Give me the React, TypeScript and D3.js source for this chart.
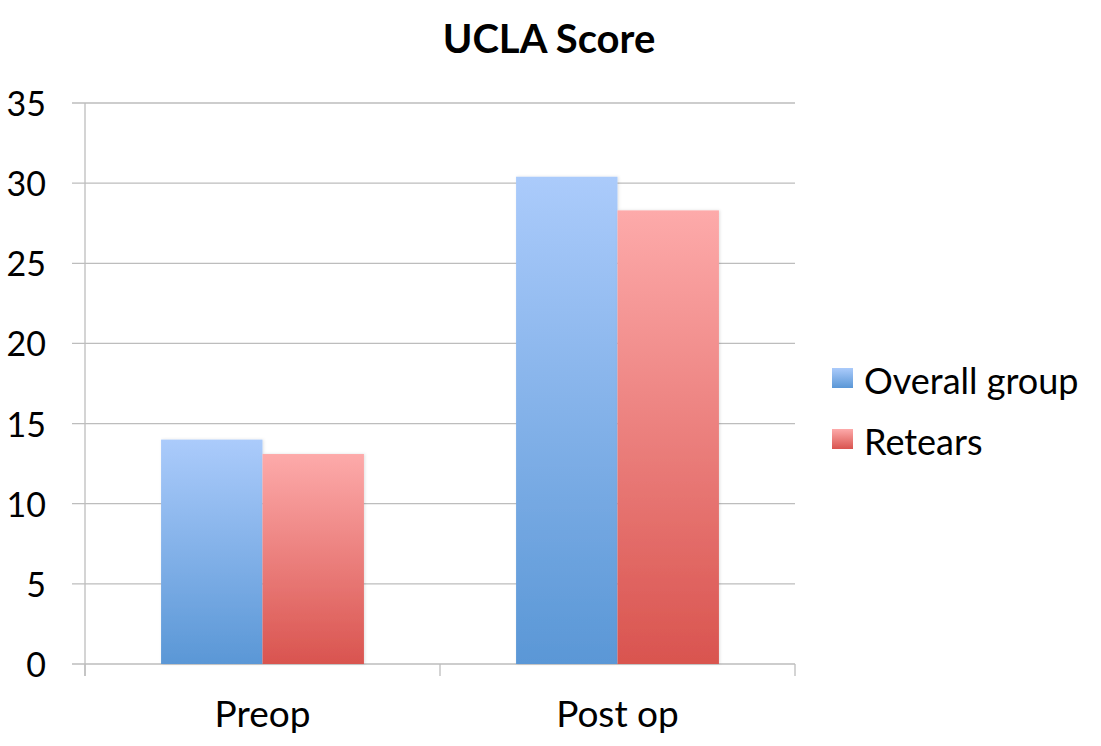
import React from "react";
import * as d3 from "d3";

const categories = ["Preop", "Post op"];
const seriesNames = ["Overall group", "Retears"];
const overallGroup = [14.0, 30.4];
const retears = [13.1, 28.3];
const yTicks = [0, 5, 10, 15, 20, 25, 30, 35];

const W = 1101;
const H = 746;
const M = { left: 85, right: 795, top: 103, bottom: 664 };
const FONT = "Lato, 'Open Sans', sans-serif";
const gridColor = "#bdbdbd";

const gradients = [
  { id: "gBlue", top: "#abcbfb", bottom: "#5a97d6" },
  { id: "gRed", top: "#fdaaaa", bottom: "#d9544f" },
];

export default function App() {
  const seriesValues = [overallGroup, retears];
  const x0 = d3.scaleBand<string>().domain(categories).range([M.left, M.right]).paddingInner(0).paddingOuter(0);
  const x1 = d3
    .scaleBand<string>()
    .domain(seriesNames)
    .range([0, x0.bandwidth()])
    .paddingInner(0)
    .paddingOuter(0.75);
  const y = d3.scaleLinear().domain([0, 35]).range([M.bottom, M.top]);

  const catTicks = [M.left, ...categories.map((c) => (x0(c) as number) + x0.bandwidth())];

  return (
    <svg width={W} height={H} style={{ position: "absolute", left: 0, top: 0 }} xmlns="http://www.w3.org/2000/svg">
      <defs>
        {gradients.map((g) => (
          <linearGradient key={g.id} id={g.id} x1="0" y1="0" x2="0" y2="1">
            <stop offset="0" stopColor={g.top} />
            <stop offset="1" stopColor={g.bottom} />
          </linearGradient>
        ))}
        <filter id="shadow" x="-10%" y="-10%" width="120%" height="120%">
          <feDropShadow dx="1" dy="0" stdDeviation="1.5" floodColor="#000" floodOpacity="0.12" />
        </filter>
      </defs>
      <rect width={W} height={H} fill="#fff" />
      <text x={549} y={53} textAnchor="middle" fontFamily={FONT} fontWeight="bold" fontSize={40} fill="#000">
        UCLA Score
      </text>
      {yTicks.map((t) => (
        <g key={t}>
          <line x1={72} x2={M.right} y1={y(t)} y2={y(t)} stroke={gridColor} strokeWidth={1.3} />
          <text x={46} y={y(t) + 13} textAnchor="end" fontFamily={FONT} fontSize={34} fill="#000">
            {t}
          </text>
        </g>
      ))}
      <line x1={M.left} x2={M.left} y1={M.top} y2={676} stroke={gridColor} strokeWidth={1.3} />
      {catTicks.map((cx, i) => (
        <line key={i} x1={cx} x2={cx} y1={M.bottom} y2={676} stroke={gridColor} strokeWidth={1.3} />
      ))}
      {categories.map((c, ci) => (
        <g key={c}>
          {seriesNames.map((s, si) => {
            const v = seriesValues[si][ci];
            const bx = (x0(c) as number) + (x1(s) as number);
            return (
              <rect
                key={s}
                x={bx}
                y={y(v)}
                width={x1.bandwidth()}
                height={y(0) - y(v)}
                fill={`url(#${gradients[si].id})`}
                filter="url(#shadow)"
              />
            );
          })}
          <text
            x={(x0(c) as number) + x0.bandwidth() / 2}
            y={727}
            textAnchor="middle"
            fontFamily={FONT}
            fontSize={37}
            fill="#000"
          >
            {c}
          </text>
        </g>
      ))}
      {seriesNames.map((s, si) => (
        <g key={s} transform={`translate(832, ${368 + si * 61})`}>
          <rect x={0} y={0} width={21} height={20} fill={`url(#${gradients[si].id})`} />
          <text x={32} y={26} fontFamily={FONT} fontSize={36} fill="#000">
            {s}
          </text>
        </g>
      ))}
    </svg>
  );
}
